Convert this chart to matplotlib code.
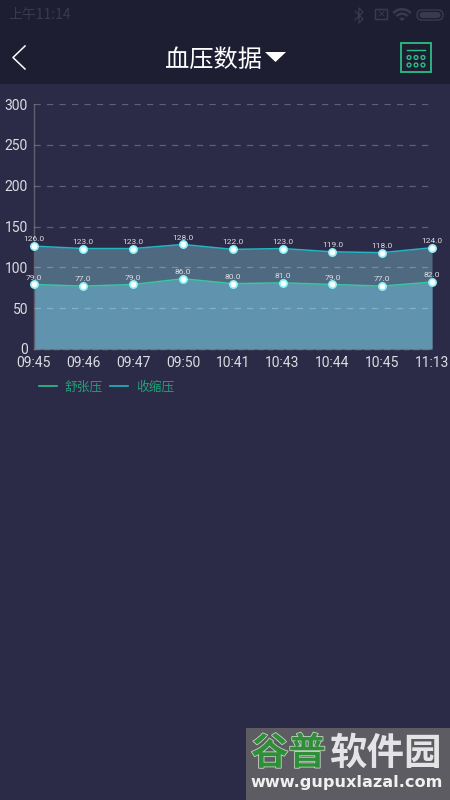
import matplotlib
matplotlib.use('Agg')
import matplotlib.pyplot as plt
import matplotlib.patheffects as pe
from matplotlib.patches import Rectangle, FancyBboxPatch, Polygon, Circle, Wedge

plt.rcParams['font.family'] = ['Noto Sans CJK SC', 'DejaVu Sans']

times = ['09:45', '09:46', '09:47', '09:50', '10:41', '10:43', '10:44', '10:45', '11:13']
diastolic = [79, 77, 79, 86, 80, 81, 79, 77, 82]
systolic = [126, 123, 123, 128, 122, 123, 119, 118, 124]
y_ticks = [0, 50, 100, 150, 200, 250, 300]

BG = '#2b2b47'
HEADER = '#1e1e33'
GREEN = '#2bbf85'
CYAN = '#22b5c4'


def draw_chrome(fig):
	# overlay in screen pixels for the app bars
	ov = fig.add_axes([0, 0, 1, 1], zorder=5)
	ov.set_xlim(0, 450)
	ov.set_ylim(800, 0)
	ov.axis('off')

	ov.add_patch(Rectangle((0, 0), 450, 84, color=HEADER, lw=0))
	ov.text(8, 15.5, '上午11:14', color='#3a3a4e', fontsize=10, va='center')

	# status icons
	dim = '#3a3a4e'
	ov.plot([355, 363, 359, 359, 363, 355], [11, 19, 23, 8, 12, 20], color=dim, lw=0.9)
	ov.add_patch(FancyBboxPatch((376, 10), 11, 9, boxstyle='round,pad=0.5', fc='none', ec=dim, lw=1.1))
	ov.text(381.5, 14.5, '×', color=dim, fontsize=8, ha='center', va='center', family='DejaVu Sans')
	ov.add_patch(Wedge((402, 21), 13, 222, 318, fc=dim, ec='none'))
	ov.add_patch(Wedge((402, 21), 10.5, 222, 318, fc=HEADER, ec='none'))
	ov.add_patch(Wedge((402, 21), 8.5, 222, 318, fc=dim, ec='none'))
	ov.add_patch(Wedge((402, 21), 6, 222, 318, fc=HEADER, ec='none'))
	ov.add_patch(Wedge((402, 21), 3.5, 222, 318, fc=dim, ec='none'))
	ov.add_patch(FancyBboxPatch((417, 10), 26, 10, boxstyle='round,pad=0,rounding_size=5', fc='none', ec=dim, lw=1))
	ov.add_patch(FancyBboxPatch((419.5, 12), 21, 6, boxstyle='round,pad=0,rounding_size=3', fc=dim, ec='none'))

	# title row
	ov.plot([25, 13, 25], [46, 57.5, 69], color='white', lw=1.1)
	ov.text(213, 60, '血压数据', color='white', fontsize=17.5, ha='center', va='center')
	ov.add_patch(Polygon([[265, 52], [286, 52], [275.5, 62]], fc='white', ec='none'))

	# calendar button
	ov.add_patch(Rectangle((401, 43), 29.5, 29, fc='none', ec=GREEN, lw=1.3))
	ov.plot([406.5, 425], [49.5, 49.5], color=GREEN, lw=1)
	for cy in [57.5, 65]:
		for cx in [409, 416, 423]:
			ov.add_patch(Circle((cx, cy), 1.9, fc='none', ec=GREEN, lw=1))

	# watermark
	ov.add_patch(Rectangle((246, 728), 204, 72, fc='#5c5c62', ec='none'))
	stroke = [pe.withStroke(linewidth=1.2, foreground='#c4d2c4')]
	ov.text(251, 753, '谷普', color='#2f8f38', fontsize=27, fontweight='bold', va='center', path_effects=stroke)
	ov.text(329, 753, '软件园', color='#e4e4e6', fontsize=27, fontweight='bold', va='center')
	ov.text(347, 783, 'www.gupuxlazal.com', color='#f0f0f0', fontsize=11.6, fontweight='bold',
		family='DejaVu Sans', ha='center', va='center')


def draw_chart(fig):
	ax = fig.add_axes([33.5 / 450, 1 - 349 / 800, 398.5 / 450, 245 / 800], zorder=2)
	ax.set_facecolor('none')
	x = list(range(len(times)))

	ax.fill_between(x, systolic, color='#4f6980', lw=0, zorder=1)
	ax.fill_between(x, diastolic, color='#6093ae', lw=0, zorder=2)
	ax.plot(x, systolic, color=CYAN, lw=1.1, zorder=4, clip_on=False)
	ax.plot(x, diastolic, color='#38c7a0', lw=1.1, zorder=4, clip_on=False)

	for series in [systolic, diastolic]:
		ax.plot(x, series, 'o', ms=5.2, mfc='white', mec='#8ff2fa', mew=1.2, zorder=5, clip_on=False)
		for i, v in zip(x, series):
			ax.annotate('%.1f' % v, (i, v), xytext=(0, 2.8), textcoords='offset points',
				ha='center', va='bottom', color='#dcdce2', fontsize=6,
				family='Roboto', zorder=6, annotation_clip=False)

	ax.set_xlim(0, len(times) - 1)
	ax.set_ylim(0, 300)
	ax.set_yticks(y_ticks)
	ax.set_xticks(x)
	ax.set_xticklabels(times)
	ax.tick_params(length=0, labelcolor='#dcdce2', labelsize=10)
	ax.tick_params(axis='x', pad=5.3)
	ax.tick_params(axis='y', pad=4)
	for label in ax.get_xticklabels() + ax.get_yticklabels():
		label.set_family('Roboto')

	ax.grid(True, axis='y', color='white', alpha=0.25, lw=0.9, ls=(0, (5, 5)), zorder=3)
	ax.set_axisbelow(False)
	for side in ['top', 'right']:
		ax.spines[side].set_visible(False)
	ax.spines['left'].set_color('#5f5f70')
	ax.spines['left'].set_linewidth(1)
	ax.spines['bottom'].set_color('#77777f')
	ax.spines['bottom'].set_linewidth(1)
	ax.spines['bottom'].set_linestyle((0, (4, 3)))

	# legend, placed by hand under the axis
	handles = [plt.Line2D([], [], color=GREEN, lw=1.2), plt.Line2D([], [], color=CYAN, lw=1.2)]
	ax.legend(handles, ['舒张压', '收缩压'], loc='upper left', bbox_to_anchor=(0.015, -0.130),
		ncol=2, frameon=False, fontsize=9.2, labelcolor='#1fa276', handlelength=1.4,
		handletextpad=0.6, columnspacing=0.55, borderpad=0, borderaxespad=0)


def main():
	fig = plt.figure(figsize=(4.5, 8), dpi=100, facecolor=BG)
	draw_chrome(fig)
	draw_chart(fig)
	fig.savefig('out.png', dpi=100, facecolor=BG)


if __name__ == "__main__":
	main()
